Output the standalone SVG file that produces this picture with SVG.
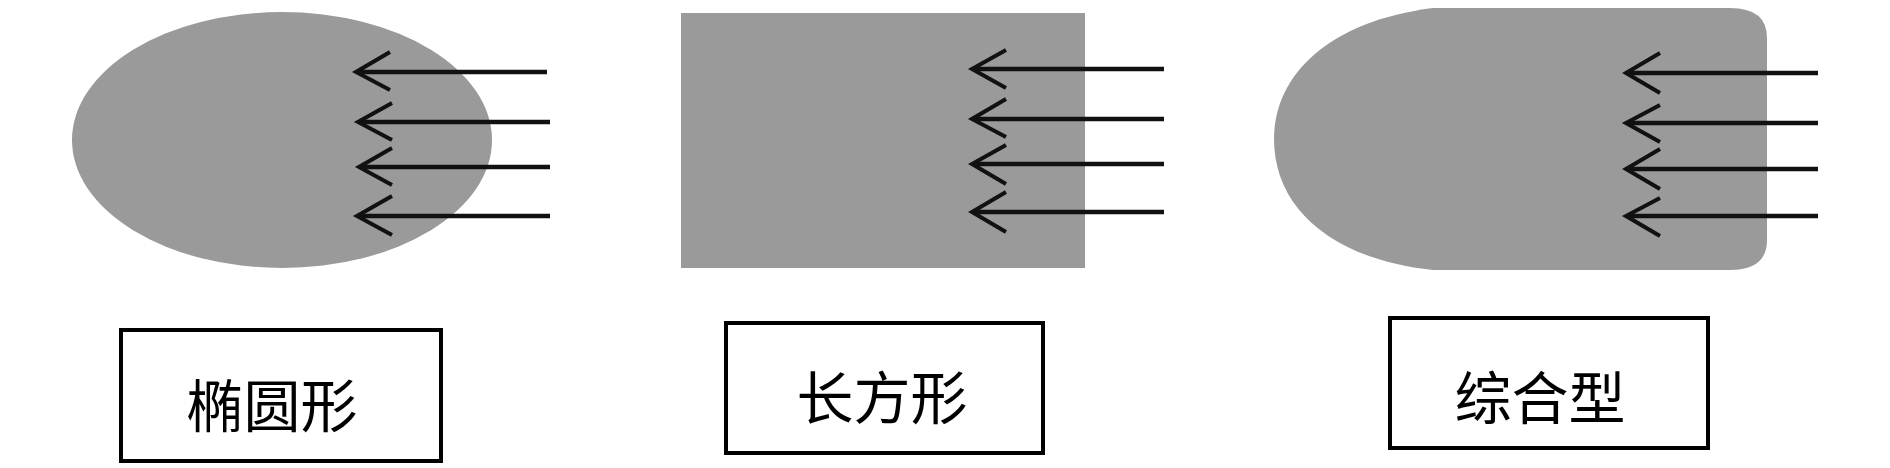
<svg xmlns="http://www.w3.org/2000/svg" width="1890" height="468" viewBox="0 0 1890 468">
<style>
.shape{fill:#9a9a9a}
.arr{stroke:#111;stroke-width:4.5;fill:none}
.head{stroke:#111;stroke-width:4;fill:none;stroke-linejoin:miter}
.box{fill:#fff;stroke:#000;stroke-width:4}
.lbl{font-family:"Noto Sans CJK SC","Noto Sans CJK JP",sans-serif;font-size:57px;fill:#000;text-anchor:middle;dominant-baseline:central;font-weight:400}
</style>
<g id="ellipse-shape">
<ellipse class="shape" cx="282" cy="140" rx="210" ry="128"/>
</g>
<g id="rect-shape">
<rect class="shape" x="681" y="13" width="404" height="255"/>
</g>
<g id="combined-shape">
<path class="shape" d="M1433,8 H1730 Q1767,8 1767,38 V240 Q1767,270 1730,270 H1433 C1330,259 1274,207 1274,139 C1274,74 1330,21 1433,8 Z"/>
</g>
<g id="connectors">
<g>
<path class="arr" d="M547,72 H359 M550,122 H361 M550,167 H362 M550,216 H360"/>
<path class="head" d="M390,52 L356,72 L390,90 M392,103 L358,122 L392,140 M392,148 L359,167 L392,185 M392,196 L357,216 L392,235"/>
</g>
<g>
<path class="arr" d="M1164,69 H975 M1164,119 H975 M1164,164 H975 M1164,212 H975"/>
<path class="head" d="M1006,50 L972,69 L1006,88 M1006,99 L972,119 L1006,137 M1006,145 L972,164 L1006,184 M1006,192 L972,212 L1006,232"/>
</g>
<g>
<path class="arr" d="M1818,73 H1629 M1818,123 H1629 M1818,169 H1629 M1818,216 H1629"/>
<path class="head" d="M1660,53 L1626,73 L1660,93 M1660,105 L1626,123 L1660,142 M1660,149 L1626,169 L1660,189 M1660,198 L1626,216 L1660,236"/>
</g>
</g>
<g id="label-ellipse">
<rect class="box" x="121" y="330" width="320" height="131"/>
<text class="lbl" x="272" y="402">椭圆形</text>
</g>
<g id="label-rect">
<rect class="box" x="726" y="323" width="317" height="130"/>
<text class="lbl" x="882" y="394">长方形</text>
</g>
<g id="label-combined">
<rect class="box" x="1390" y="318" width="318" height="130"/>
<text class="lbl" x="1540" y="394">综合型</text>
</g>
</svg>
